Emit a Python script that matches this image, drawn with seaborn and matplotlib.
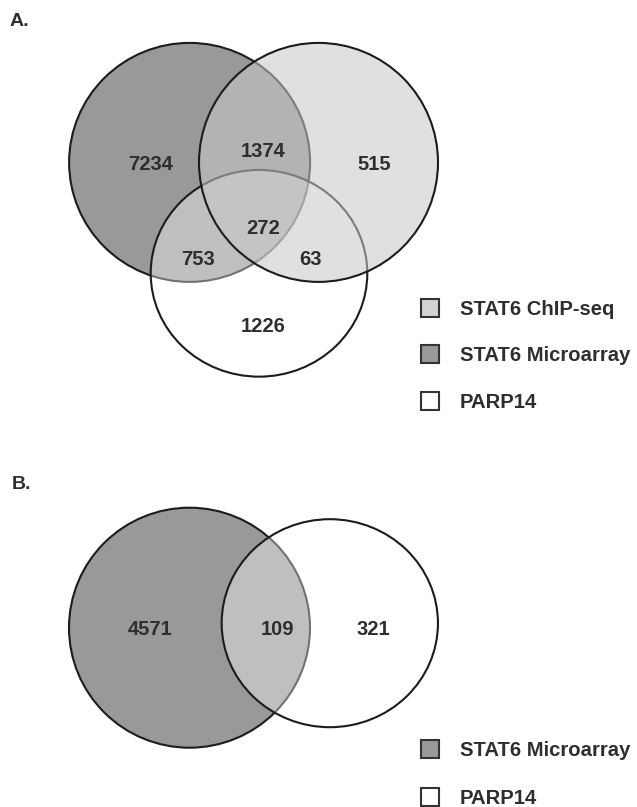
import matplotlib
matplotlib.use("Agg")
import matplotlib.pyplot as plt
from matplotlib.patches import Ellipse, Rectangle
import seaborn as sns

# ---- data ----
sets_a = ["STAT6 Microarray", "PARP14", "STAT6 ChIP-seq"]
legend_a = ["STAT6 ChIP-seq", "STAT6 Microarray", "PARP14"]
# region counts, panel A
only_micro_a = 7234
micro_chip_a = 1374
only_chip_a = 515
all_three_a = 272
micro_parp_a = 753
chip_parp_a = 63
only_parp_a = 1226
# panel B
sets_b = ["STAT6 Microarray", "PARP14"]
legend_b = ["STAT6 Microarray", "PARP14"]
only_micro_b = 4571
micro_parp_b = 109
only_parp_b = 321

# ---- styles ----
sns.set_theme(style="white")
plt.rcParams["font.family"] = ["Liberation Sans", "DejaVu Sans"]

fill = {
    "STAT6 Microarray": (0.60, 0.60, 0.60, 1.0),
    "PARP14": (1.0, 1.0, 1.0, 0.38),
    "STAT6 ChIP-seq": (0.784, 0.784, 0.784, 0.56),
}
legend_fill = {
    "STAT6 Microarray": "#999999",
    "PARP14": "#ffffff",
    "STAT6 ChIP-seq": "#d2d2d2",
}
edge = "#1c1c1c"
txt = "#2e2e2e"

# geometry (pixel space)
geo_a = {
    "STAT6 Microarray": ((189.6, 162.4), 241, 239),
    "PARP14": ((259.0, 273.3), 216.6, 206.7),
    "STAT6 ChIP-seq": ((318.5, 162.4), 239, 239),
}
geo_b = {
    "STAT6 Microarray": ((189.5, 627.7), 241, 240),
    "PARP14": ((329.8, 623.2), 216.3, 208),
}
lab_pos_a = [(151, 163), (263, 150), (374, 163), (263, 227), (198, 258), (310, 258), (263, 325)]
lab_pos_b = [(150, 628), (278, 628), (373, 628)]
leg_y_a = [308, 353.5, 401]
leg_y_b = [749, 796.5]

fig = plt.figure(figsize=(6.37, 8.07), dpi=100)
ax = fig.add_axes([0, 0, 1, 1])
ax.set_xlim(0, 637)
ax.set_ylim(807, 0)
ax.axis("off")

def draw_sets(names, geo):
    for i, n in enumerate(names):
        (cx, cy), w, h = geo[n]
        ax.add_patch(Ellipse((cx, cy), w, h, facecolor=fill[n], edgecolor=edge,
                             linewidth=1.5, zorder=2 + i))

def draw_counts(vals, pos):
    for v, (x, y) in zip(vals, pos):
        ax.text(x, y + 7, str(v), ha="center", va="baseline", fontsize=14.5,
                fontweight="bold", color=txt, zorder=10)

def draw_legend(names, ys):
    for n, y in zip(names, ys):
        ax.add_patch(Rectangle((421, y - 9), 18, 18, facecolor=legend_fill[n],
                               edgecolor="#333333", linewidth=1.5, zorder=10))
        ax.text(460, y + 7.3, n, ha="left", va="baseline", fontsize=14.6,
                fontweight="bold", color=txt, zorder=10)

draw_sets(sets_a, geo_a)
draw_counts([only_micro_a, micro_chip_a, only_chip_a, all_three_a,
             micro_parp_a, chip_parp_a, only_parp_a], lab_pos_a)
draw_legend(legend_a, leg_y_a)

draw_sets(sets_b, geo_b)
draw_counts([only_micro_b, micro_parp_b, only_parp_b], lab_pos_b)
draw_legend(legend_b, leg_y_b)

ax.text(10, 26, "A.", ha="left", va="baseline", fontsize=14, fontweight="bold", color=txt)
ax.text(12, 489, "B.", ha="left", va="baseline", fontsize=14, fontweight="bold", color=txt)

fig.savefig("out.png", dpi=100)
